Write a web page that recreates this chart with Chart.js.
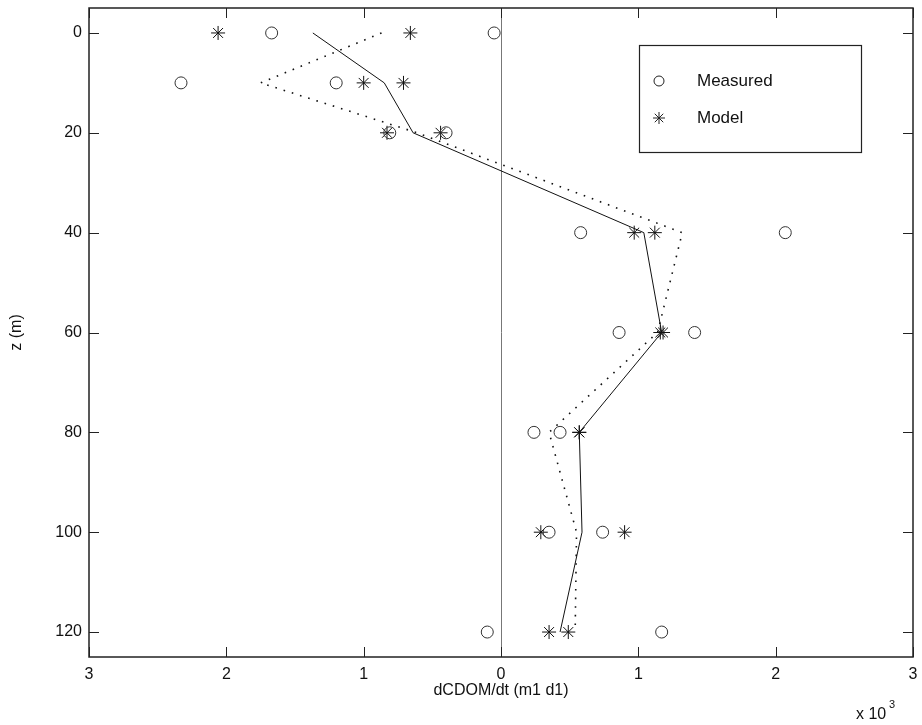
<!DOCTYPE html>
<html>
<head>
<meta charset="utf-8">
<script src="https://cdn.jsdelivr.net/npm/chart.js@4/dist/chart.umd.min.js"></script>
<style>
  html, body { margin: 0; padding: 0; background: #fff; }
  #wrap { width: 922px; height: 725px; }
</style>
</head>
<body>
<div id="wrap"><canvas id="myCanvas" width="922" height="725"></canvas></div>
<script>
// depths (m) and rates (x 10^-3)
const depths = [0, 10, 20, 40, 60, 80, 100, 120];
const measuredA = [-1.67, -2.33, -0.81, 0.58, 0.86, 0.24, 0.35, -0.10];
const measuredB = [-0.05, -1.20, -0.40, 2.07, 1.41, 0.43, 0.74, 1.17];
const modelA = [-2.06, -1.00, -0.83, 0.97, 1.16, 0.57, 0.29, 0.35];
const modelB = [-0.66, -0.71, -0.44, 1.12, 1.18, 0.57, 0.90, 0.49];
const modelLine = [-1.37, -0.85, -0.64, 1.04, 1.17, 0.57, 0.59, 0.43];
const measuredLine = [-0.87, -1.75, -0.61, 1.32, 1.14, 0.35, 0.55, 0.54];
const xTicks = [-3, -2, -1, 0, 1, 2, 3];
const yTicks = [0, 20, 40, 60, 80, 100, 120];

const FONT = "'Liberation Sans', Arial, sans-serif";
const pts = (xs) => xs.map((x, i) => ({ x: x, y: depths[i] }));

const frame = {
   id: 'frame',
   beforeDatasetsDraw(chart) {
      const { ctx, chartArea: a, scales } = chart;
      ctx.save();
      // zero line
      const x0 = scales.x.getPixelForValue(0);
      ctx.strokeStyle = '#777';
      ctx.lineWidth = 1;
      ctx.beginPath();
      ctx.moveTo(Math.round(x0) + 0.5, a.top);
      ctx.lineTo(Math.round(x0) + 0.5, a.bottom);
      ctx.stroke();
      ctx.restore();
   },
   afterDatasetsDraw(chart) {
      const { ctx, chartArea: a, scales } = chart;
      ctx.save();
      ctx.strokeStyle = '#222';
      ctx.lineWidth = 1.5;
      ctx.strokeRect(a.left, a.top, a.right - a.left, a.bottom - a.top);
      // inward ticks on all sides
      ctx.lineWidth = 1;
      ctx.beginPath();
      xTicks.forEach(v => {
         const px = Math.round(scales.x.getPixelForValue(v)) + 0.5;
         ctx.moveTo(px, a.bottom); ctx.lineTo(px, a.bottom - 10);
         ctx.moveTo(px, a.top); ctx.lineTo(px, a.top + 10);
      });
      yTicks.forEach(v => {
         const py = Math.round(scales.y.getPixelForValue(v)) + 0.5;
         ctx.moveTo(a.left, py); ctx.lineTo(a.left + 10, py);
         ctx.moveTo(a.right, py); ctx.lineTo(a.right - 10, py);
      });
      ctx.stroke();

      // legend box
      const lx = 639, ly = 45, lw = 222, lh = 107;
      ctx.fillStyle = '#fff';
      ctx.fillRect(lx, ly, lw, lh);
      ctx.strokeStyle = '#222';
      ctx.lineWidth = 1.2;
      ctx.strokeRect(lx + 0.5, ly + 0.5, lw, lh);
      ctx.font = '17px ' + FONT;
      ctx.fillStyle = '#111';
      ctx.textBaseline = 'middle';
      ctx.fillText('Measured', 697, 81);
      ctx.fillText('Model', 697, 118);
      ctx.lineWidth = 1;
      ctx.beginPath();
      ctx.arc(659, 81, 5, 0, Math.PI * 2);
      ctx.stroke();
      ctx.beginPath();
      for (let k = 0; k < 4; k++) {
         const ang = k * Math.PI / 4;
         ctx.moveTo(659 - 6 * Math.cos(ang), 118 - 6 * Math.sin(ang));
         ctx.lineTo(659 + 6 * Math.cos(ang), 118 + 6 * Math.sin(ang));
      }
      ctx.stroke();

      // exponent label
      ctx.textBaseline = 'alphabetic';
      ctx.font = '16px ' + FONT;
      ctx.fillText('x 10', 856, 719);
      ctx.font = '11px ' + FONT;
      ctx.fillText('3', 889, 708);
      ctx.restore();
   }
};

const ctx = document.getElementById('myCanvas').getContext('2d');

new Chart(ctx, {
   type: 'scatter',
   data: {
      datasets: [
         { label: 'Measured', data: pts(measuredA), pointStyle: 'circle', pointRadius: 6,
           borderColor: '#333', backgroundColor: 'rgba(0,0,0,0)', borderWidth: 1, showLine: false },
         { label: 'Measured', data: pts(measuredB), pointStyle: 'circle', pointRadius: 6,
           borderColor: '#333', backgroundColor: 'rgba(0,0,0,0)', borderWidth: 1, showLine: false },
         { label: 'Model', data: pts(modelA), pointStyle: 'star', pointRadius: 7,
           borderColor: '#111', backgroundColor: 'rgba(0,0,0,0)', borderWidth: 1, showLine: false },
         { label: 'Model', data: pts(modelB), pointStyle: 'star', pointRadius: 7,
           borderColor: '#111', backgroundColor: 'rgba(0,0,0,0)', borderWidth: 1, showLine: false },
         { label: 'model mean', data: pts(modelLine), showLine: true, pointRadius: 0,
           borderColor: '#111', borderWidth: 1, tension: 0, fill: false },
         { label: 'measured mean', data: pts(measuredLine), showLine: true, pointRadius: 0,
           borderColor: '#111', borderWidth: 1.6, borderDash: [1.6, 7], tension: 0, fill: false }
      ]
   },
   options: {
      responsive: false,
      animation: false,
      layout: { padding: { left: 0, top: 7, right: 9, bottom: 0 } },
      plugins: { legend: { display: false }, tooltip: { enabled: false } },
      scales: {
         x: {
            type: 'linear', min: -3, max: 3,
            afterBuildTicks: s => { s.ticks = xTicks.map(v => ({ value: v })); },
            afterFit: s => { s.height = 68; s.paddingLeft = 0; s.paddingRight = 0; },
            grid: { display: false, drawTicks: false },
            border: { display: false },
            ticks: { padding: 8, color: '#111', font: { family: FONT, size: 16 },
                     callback: v => String(Math.abs(v)) },
            title: { display: true, text: 'dCDOM/dt (m1 d1)', color: '#111',
                     font: { family: FONT, size: 16 }, padding: { top: 0, bottom: 25 } }
         },
         y: {
            type: 'linear', min: -5, max: 125, reverse: true,
            afterBuildTicks: s => { s.ticks = yTicks.map(v => ({ value: v })); },
            afterFit: s => { s.width = 89; s.paddingTop = 0; s.paddingBottom = 0; },
            grid: { display: false, drawTicks: false },
            border: { display: false },
            ticks: { padding: 7, color: '#111', font: { family: FONT, size: 16 } },
            title: { display: true, text: 'z (m)', color: '#111',
                     font: { family: FONT, size: 16 }, padding: { top: 7, bottom: 0 } }
         }
      }
   },
   plugins: [frame]
});
</script>
</body>
</html>
